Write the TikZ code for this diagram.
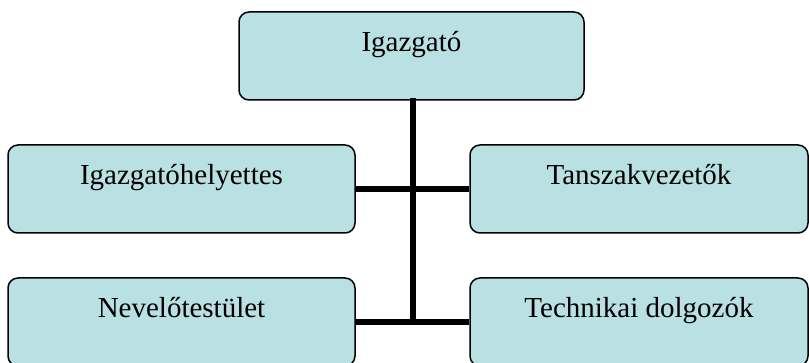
\documentclass[tikz,border=0pt]{standalone}
\usepackage{fontspec}
\setmainfont{Liberation Serif}
\usepackage{xcolor}
\usetikzlibrary{calc}
\definecolor{boxfill}{RGB}{185,224,227}

\begin{document}
\begin{tikzpicture}[x=0.5pt,y=-0.5pt,
        unit/.style={draw,rounded corners=5pt,fill=boxfill,line width=0.75pt,inner sep=0pt,
            text height=20pt,text depth=24pt,font=\fontsize{14.5}{17}\selectfont},
        link/.style={line width=3pt}]
        \useasboundingbox (0,0) rectangle (809,363);
        \node[unit,minimum width=172.5pt] (igaz) at (411.5,56) {Igazgató};
        \node[unit,minimum width=173.5pt] (helyettes) at (181.5,189) {Igazgatóhelyettes};
        \node[unit,minimum width=169pt] (tanszak) at (639,189) {Tanszakvezetők};
        \node[unit,minimum width=173.5pt] (nevelo) at (181.5,322) {Nevelőtestület};
        \node[unit,minimum width=169pt] (technikai) at (639,322) {Technikai dolgozók};
        \draw[link] (helyettes.east) -- (tanszak.west);
        \draw[link] (nevelo.east) -- (technikai.west);
        \draw[link,line cap=rect] ($(igaz.south)+(1.5,0)$) -- ($(igaz.south |- nevelo.east)+(1.5,0)$);
    \end{tikzpicture}
\end{document}
